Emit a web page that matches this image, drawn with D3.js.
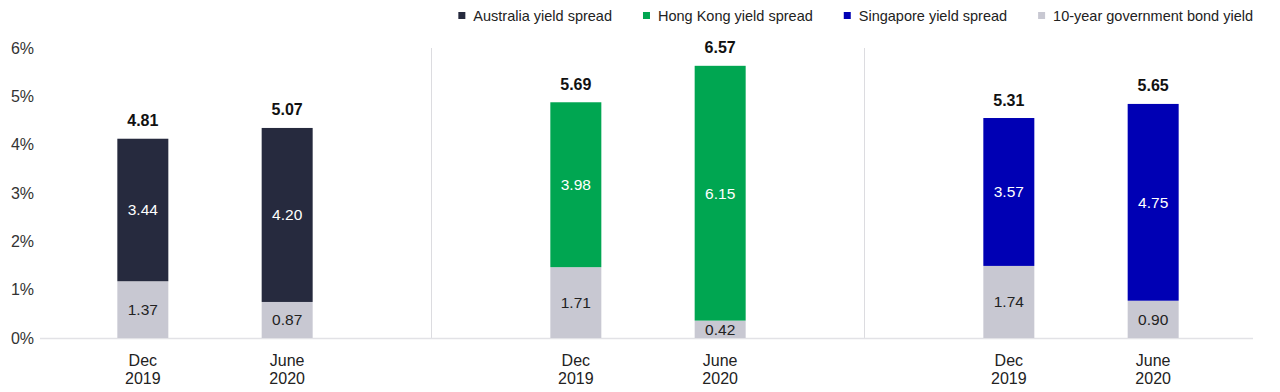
<!DOCTYPE html>
<html>
<head>
<meta charset="utf-8">
<script src="https://cdn.jsdelivr.net/npm/d3@7"></script>
<style>
  html, body { margin: 0; padding: 0; background: #fff; }
  svg { display: block; font-family: "Liberation Sans", Arial, sans-serif; }
</style>
</head>
<body>
<svg id="chart" width="1280" height="392"></svg>
<script>
// ---- data ----
const groups = ["Australia", "Hong Kong", "Singapore"];
const periods = ["Dec\n2019", "June\n2020"];
const bondYield = [[1.37, 0.87], [1.71, 0.42], [1.74, 0.90]];
const yieldSpread = [[3.44, 4.20], [3.98, 6.15], [3.57, 4.75]];
const totals = [[4.81, 5.07], [5.69, 6.57], [5.31, 5.65]];
const yTickLabels = ["0%", "1%", "2%", "3%", "4%", "5%", "6%"];
const legendLabels = ["Australia yield spread", "Hong Kong yield spread", "Singapore yield spread", "10-year government bond yield"];

// ---- styles ----
const spreadColors = ["#262a3e", "#00a651", "#0000b4"];
const greyColor = "#c8c8d2";
const legendColors = [...spreadColors, greyColor];

const svg = d3.select("#chart");

// value scale (bars) and label scale (axis ticks) share the same pixel range
const y = d3.scaleLinear().domain([0, 7]).range([338, 48]);
const yAxisScale = d3.scaleLinear().domain([0, yTickLabels.length - 1]).range([338, 48]);

const x0 = d3.scaleBand().domain(groups).range([-1.5, 1297.5]).padding(0);
const x1 = d3.scalePoint().domain(periods).range([0, x0.bandwidth()]).padding(1);
const barW = 51;

// y axis labels
const yAxis = d3.axisLeft(yAxisScale)
  .tickValues(d3.range(yTickLabels.length))
  .tickFormat(i => yTickLabels[i])
  .tickSize(0).tickPadding(0);
const ya = svg.append("g").attr("transform", "translate(34,0)").call(yAxis);
ya.select(".domain").remove();
ya.selectAll("text").attr("font-size", 16).attr("fill", "#333").attr("font-family", "Liberation Sans, Arial, sans-serif");

// separators
svg.append("g").selectAll("line").data(groups.slice(1)).join("line")
  .attr("x1", d => x0(d)).attr("x2", d => x0(d))
  .attr("y1", y(7)).attr("y2", y(0))
  .attr("stroke", "#dcdce0").attr("stroke-width", 1);

// baseline
svg.append("line").attr("x1", 40).attr("x2", 1253)
  .attr("y1", y(0) + 0.5).attr("y2", y(0) + 0.5)
  .attr("stroke", "#e2e2e6").attr("stroke-width", 1.5);

// bars
groups.forEach((g, gi) => {
  const gEl = svg.append("g").attr("transform", `translate(${x0(g)},0)`);
  periods.forEach((p, pi) => {
    const cx = x1(p);
    const b = bondYield[gi][pi], s = yieldSpread[gi][pi], t = totals[gi][pi];
    gEl.append("rect").attr("x", cx - barW / 2).attr("width", barW)
      .attr("y", y(b)).attr("height", y(0) - y(b)).attr("fill", greyColor);
    gEl.append("rect").attr("x", cx - barW / 2).attr("width", barW)
      .attr("y", y(t)).attr("height", y(b) - y(t)).attr("fill", spreadColors[gi]);
    gEl.append("text").attr("x", cx).attr("y", (y(0) + y(b)) / 2)
      .attr("text-anchor", "middle").attr("dominant-baseline", "central")
      .attr("font-size", 15.5).attr("fill", "#222").text(b.toFixed(2));
    gEl.append("text").attr("x", cx).attr("y", (y(b) + y(t)) / 2)
      .attr("text-anchor", "middle").attr("dominant-baseline", "central")
      .attr("font-size", 15.5).attr("fill", "#fff").text(s.toFixed(2));
    gEl.append("text").attr("x", cx).attr("y", y(t) - 12.5)
      .attr("text-anchor", "middle").attr("font-weight", "bold")
      .attr("font-size", 16).attr("fill", "#111").text(t.toFixed(2));
    const lines = p.split("\n");
    const xt = gEl.append("text").attr("x", cx).attr("text-anchor", "middle")
      .attr("font-size", 16).attr("fill", "#222");
    lines.forEach((l, li) => {
      xt.append("tspan").attr("x", cx).attr("y", 366 + li * 18).text(l);
    });
  });
});

// legend (right-aligned to end at 1253)
const leg = svg.append("g");
const items = legendLabels.map((l, i) => {
  const t = leg.append("text").attr("y", 21).attr("font-size", 14.5).attr("fill", "#222").text(l);
  const r = leg.append("rect").attr("y", 12).attr("width", 7).attr("height", 7).attr("fill", legendColors[i]);
  return { t, r, w: t.node().getComputedTextLength() };
});
const gap = 31, mk = 15;
const total = d3.sum(items, d => mk + d.w) + gap * (items.length - 1);
let lx = 1253 - total;
items.forEach(d => {
  d.r.attr("x", lx);
  d.t.attr("x", lx + mk);
  lx += mk + d.w + gap;
});
</script>
</body>
</html>
